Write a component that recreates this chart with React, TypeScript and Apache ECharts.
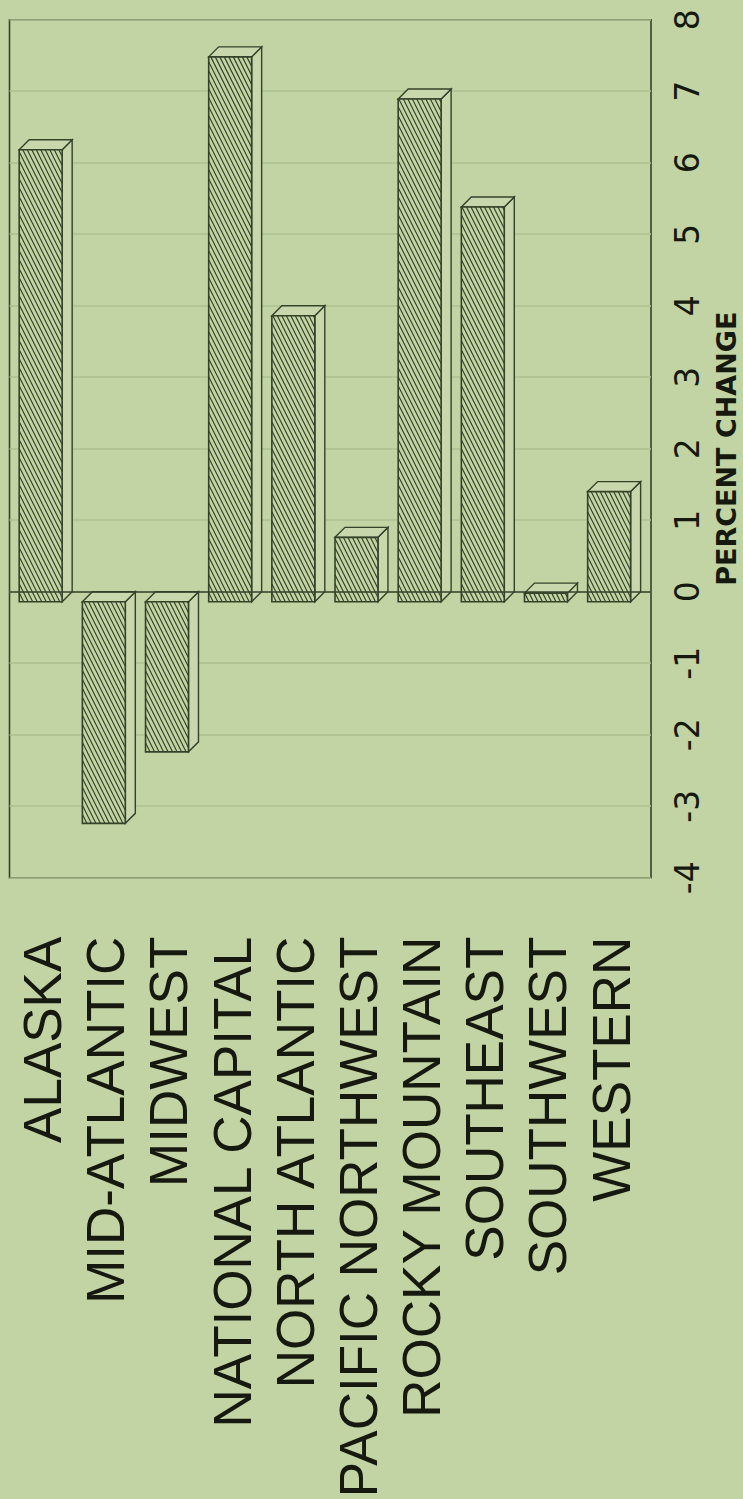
import React, { useEffect, useRef } from 'react';
import * as echarts from 'echarts';

const categories = [
  'ALASKA',
  'MID-ATLANTIC',
  'MIDWEST',
  'NATIONAL CAPITAL',
  'NORTH ATLANTIC',
  'PACIFIC NORTHWEST',
  'ROCKY MOUNTAIN',
  'SOUTHEAST',
  'SOUTHWEST',
  'WESTERN',
];
const percentChange = [6.32, -3.1, -2.1, 7.62, 4.0, 0.9, 7.03, 5.52, 0.12, 1.54];
const axisTitle = 'PERCENT CHANGE';
const valueMin = -4;
const valueMax = 8;
const valueStep = 1;

const BG = '#c2d4a3';
const INK = '#34422a';
const TEXT = '#15190f';
const FACE = '#c8d8ac';
const GRIDLINE = '#adc191';

const DEPTH = 10;

function renderBar(params: any, api: any) {
  const idx = api.value(0);
  const v = api.value(1);
  const base = api.coord([idx, 0]);
  const tip = api.coord([idx, v]);
  const band = api.size([1, 0])[0];
  const w = band * 0.68;
  const cx = base[0] - band * 0.03;
  const x0 = cx - w / 2;
  const x1 = cx + w / 2;
  const yT = Math.min(base[1], tip[1]);
  const yB = Math.max(base[1], tip[1]);
  const h = yB - yT;
  const d = DEPTH;
  const k = 0.5;
  const s = 4.5;
  let hatch = '';
  for (let c = x0 - k * h; c < x1; c += s) {
    const ys = Math.max(yT, yT + (x0 - c) / k);
    const ye = Math.min(yB, yT + (x1 - c) / k);
    if (ye - ys > 0.3) {
      hatch += `M${(c + k * (ys - yT)).toFixed(2)} ${ys.toFixed(2)}L${(c + k * (ye - yT)).toFixed(2)} ${ye.toFixed(2)}`;
    }
  }
  const children: any[] = [
    {
      type: 'polygon',
      shape: { points: [[x1, yT], [x1 + d, yT - d], [x1 + d, yB - d], [x1, yB]] },
      style: { fill: FACE, stroke: INK, lineWidth: 1.4 },
    },
    {
      type: 'polygon',
      shape: { points: [[x0, yT], [x0 + d, yT - d], [x1 + d, yT - d], [x1, yT]] },
      style: { fill: FACE, stroke: INK, lineWidth: 1.4 },
    },
    {
      type: 'rect',
      shape: { x: x0, y: yT, width: w, height: h },
      style: { fill: BG, stroke: null },
    },
  ];
  if (hatch) {
    children.push({
      type: 'path',
      shape: { pathData: hatch },
      style: { fill: null, stroke: INK, lineWidth: 1.15 },
    });
  }
  children.push({
    type: 'rect',
    shape: { x: x0, y: yT, width: w, height: h },
    style: { fill: null, stroke: INK, lineWidth: 1.6 },
  });
  return { type: 'group', children };
}

export default function App() {
  const ref = useRef<HTMLDivElement>(null);
  useEffect(() => {
    document.body.style.margin = '0';
    document.body.style.overflow = 'hidden';
    const chart = echarts.init(ref.current!, null, { renderer: 'svg' });
    const option: any = {
      animation: false,
      backgroundColor: BG,
      grid: [
        {
          show: true,
          left: 9.5,
          right: 92,
          top: 19.7,
          bottom: 621.3,
          borderColor: INK,
          borderWidth: 1.6,
          backgroundColor: 'transparent',
          outerBoundsMode: 'none',
          containLabel: false,
        },
        {
          left: 11,
          right: 100.4,
          top: 29.7,
          bottom: 611.3,
          outerBoundsMode: 'none',
          containLabel: false,
        },
      ],
      xAxis: [
        { gridIndex: 0, type: 'category', data: categories, show: false },
        {
          gridIndex: 1,
          type: 'category',
          data: categories,
          axisLine: { show: false },
          axisTick: { show: false },
          axisLabel: {
            interval: 0,
            rotate: 90,
            fontSize: 53,
            fontFamily: 'Liberation Sans, Arial, sans-serif',
            color: TEXT,
            margin: 49,
          },
        },
      ],
      yAxis: [
        {
          gridIndex: 0,
          type: 'value',
          min: valueMin,
          max: valueMax,
          interval: valueStep,
          position: 'right',
          axisLine: { show: false },
          axisTick: { show: false },
          splitLine: { show: true, lineStyle: { color: GRIDLINE, width: 1.5 } },
          axisLabel: {
            rotate: 90,
            fontSize: 33,
            fontFamily: 'DejaVu Sans',
            color: TEXT,
            margin: 20,
          },
          name: axisTitle,
          nameLocation: 'middle',
          nameRotate: 90,
          nameGap: 62,
          nameTextStyle: {
            fontSize: 27,
            lineHeight: 26,
            fontWeight: 'bold',
            fontFamily: 'DejaVu Sans',
            color: TEXT,
          },
        },
        {
          gridIndex: 1,
          type: 'value',
          min: valueMin,
          max: valueMax,
          interval: valueStep,
          show: false,
        },
      ],
      series: [
        {
          type: 'line',
          xAxisIndex: 0,
          yAxisIndex: 0,
          data: [],
          markLine: {
            silent: true,
            symbol: 'none',
            label: { show: false },
            lineStyle: { color: INK, width: 1.5, type: 'solid' },
            data: [{ yAxis: 0 }],
          },
        },
        {
          type: 'custom',
          xAxisIndex: 1,
          yAxisIndex: 1,
          clip: false,
          renderItem: renderBar,
          encode: { x: 0, y: 1 },
          data: categories.map((c, i) => [i, percentChange[i]]),
        },
      ],
    };
    chart.setOption(option);
    return () => chart.dispose();
  }, []);
  return <div ref={ref} style={{ width: 743, height: 1499, background: BG }} />;
}
